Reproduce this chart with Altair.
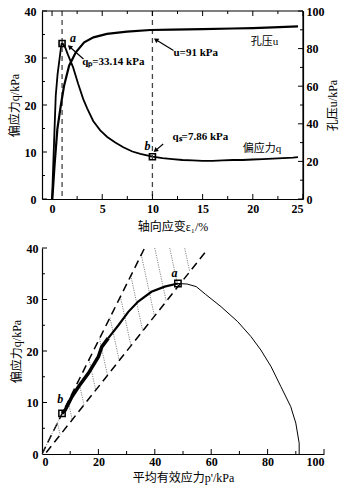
import altair as alt
import pandas as pd

# ---------------- top chart data (axial strain vs q and u) ----------------
strain_q = [0, 0.2, 0.37, 0.55, 0.7, 0.85, 0.95, 1.05, 1.3, 1.6, 2.1, 2.6, 3.1, 3.5, 4.1, 4.8,
            5.5, 6.3, 7.1, 8.0, 8.8, 10, 11, 12, 13, 14, 15, 16, 17, 18, 19, 20, 21, 22, 23, 24, 24.5]
q_vals = [0, 12, 22, 26.5, 29, 31.5, 33.0, 33.1, 32.3, 30.6, 28.0, 24.5, 21.3, 19.3, 16.6, 14.6,
          13.2, 12.0, 11.0, 10.1, 9.6, 9.0, 8.7, 8.5, 8.3, 8.2, 8.1, 8.1, 8.2, 8.3, 8.3, 8.4, 8.5,
          8.6, 8.7, 8.8, 8.9]
strain_u = [0.03, 0.25, 0.53, 0.87, 1.2, 1.7, 2.37, 3.2, 4.13, 5.47, 7.47, 9.8, 12, 15, 18, 20, 22, 24.5]
u_vals = [0, 18, 37.2, 49.6, 60.3, 70.9, 78, 83.3, 86, 87.8, 89, 89.9, 90.1, 90.4, 90.7, 90.9, 91.3, 91.8]
vline_strain = [1.0, 10.0]
mark_strain = [1.0, 10.0]
mark_q = [33.1, 9.0]

# ---------------- bottom chart data (p' vs q stress path) ----------------
p_path = [91.2, 91.2, 90.0, 88.2, 84.7, 81.2, 77.6, 74.1, 69.4, 63.5, 58.0, 54.7, 51.5, 48.2,
          43.5, 38.8, 34.1, 30.6, 27.1, 23.5, 21.2, 20.0, 16.5, 13.0, 10.6, 8.2, 7.1]
q_path = [0, 2.1, 6.0, 9.2, 13.1, 17.0, 20.2, 22.8, 25.7, 28.6, 31.0, 32.5, 33.0, 33.1,
          32.5, 31.5, 29.6, 27.6, 25.0, 22.5, 20.8, 18.9, 15.7, 13.1, 11.1, 8.5, 7.9]
mark_p = [48.2, 7.1]
mark_pq = [33.1, 7.9]
upper_line = [(0.0, 0.0), (36.4, 40.0)]
lower_line = [(1.5, 0.3), (58.5, 39.6)]
hatch_start_p = [5.5, 9.3, 13.0, 16.7, 20.4, 24.1, 27.8, 31.5, 35.2, 38.9, 42.6, 46.3]

SERIF = "Liberation Serif"
TITLEF = "Liberation Serif, Noto Sans CJK SC"

W1, H1 = 261, 188
W2, H2 = 282, 206
X1 = (-1, 25)
Q1 = (0, 40)
U1 = (0, 100)
P2 = (0, 100)
Q2 = (0, 40)


def axis(values, title, orient, **kw):
    return alt.Axis(values=values, title=title, orient=orient, ticks=False, grid=False,
                    domainColor="black", domainWidth=1.2, labelOverlap=False,
                    labelFont=SERIF, labelFontWeight="bold", labelFontSize=12, labelColor="black",
                    titleFont=TITLEF, titleFontWeight="normal", titleFontSize=12, titleColor="black",
                    **kw)


# axes (identical object reused on every layer so merged axes keep all settings)
AX1 = axis([0, 5, 10, 15, 20, 25], "轴向应变ε₁/%", "bottom", labelPadding=4, titlePadding=7)
AQ1 = axis([0, 10, 20, 30, 40], "偏应力q/kPa", "left", labelPadding=6, titlePadding=3)
AU1 = axis([0, 20, 40, 60, 80, 100], "孔压u/kPa", "right", labelPadding=3, titleAngle=270,
           titleX=29, titleY=H1 / 2, titleAlign="center", titleBaseline="middle")
AP2 = axis([0, 20, 40, 60, 80, 100], "平均有效应力p'/kPa", "bottom", labelPadding=2, titlePadding=5)
AQ2 = axis([0, 10, 20, 30, 40], "偏应力q/kPa", "left", labelPadding=4, titlePadding=3)

xs = alt.Scale(domain=list(X1), nice=False, zero=False)
qs = alt.Scale(domain=list(Q1), nice=False)
us = alt.Scale(domain=list(U1), nice=False)
ps = alt.Scale(domain=list(P2), nice=False)
qs2 = alt.Scale(domain=list(Q2), nice=False)


def X(f, sc, ax):
    return alt.X(f, scale=sc, axis=ax)


def Y(f, sc, ax):
    return alt.Y(f, scale=sc, axis=ax)


def seg_layer(rows, sx, ax_x, sy, ax_y, width=1.0, color="black", dash=None, clip=False):
    df = pd.DataFrame(rows, columns=["x1", "y1", "x2", "y2"])
    kw = dict(color=color, strokeWidth=width, clip=clip)
    if dash:
        kw["strokeDash"] = dash
    return alt.Chart(df).mark_rule(**kw).encode(
        x=X("x1:Q", sx, ax_x), y=Y("y1:Q", sy, ax_y), x2="x2:Q", y2="y2:Q")


def xtick_rows(vals, L_px, H, ydom, top=False):
    L = L_px * (ydom[1] - ydom[0]) / H
    if top:
        return [(v, ydom[1], v, ydom[1] - L) for v in vals]
    return [(v, ydom[0], v, ydom[0] + L) for v in vals]


def ytick_rows(vals, L_px, W, xdom, right=False):
    L = L_px * (xdom[1] - xdom[0]) / W
    if right:
        return [(xdom[1], v, xdom[1] - L, v) for v in vals]
    return [(xdom[0], v, xdom[0] + L, v) for v in vals]


# ---------------- top chart ----------------
df_q = pd.DataFrame({"s": strain_q, "q": q_vals})
df_u = pd.DataFrame({"s": strain_u, "u": u_vals})

q_line = alt.Chart(df_q).mark_line(color="black", strokeWidth=1.8).encode(
    x=X("s:Q", xs, AX1), y=Y("q:Q", qs, AQ1))
vrules = alt.Chart(pd.DataFrame({"s": vline_strain})).mark_rule(
    color="#444", strokeDash=[5, 4], strokeWidth=1.3).encode(x=X("s:Q", xs, AX1))
squares_top = alt.Chart(pd.DataFrame({"s": mark_strain, "q": mark_q})).mark_point(
    shape="square", filled=False, color="black", size=36, strokeWidth=1.6, opacity=1).encode(
    x=X("s:Q", xs, AX1), y=Y("q:Q", qs, AQ1))

lab_it = alt.Chart(pd.DataFrame({"s": [1.8, 9.2], "q": [34.3, 11.3], "t": ["a", "b"]})).mark_text(
    font=SERIF, fontStyle="italic", fontWeight="bold", fontSize=12, color="black", align="left",
    baseline="middle").encode(x=X("s:Q", xs, AX1), y=Y("q:Q", qs, AQ1), text="t:N")
lab_val = alt.Chart(pd.DataFrame({"s": [3.0, 12.1, 12.0], "q": [29.1, 31.0, 13.1],
                                  "t": ["qₚ=33.14 kPa", "u=91 kPa", "qₛ=7.86 kPa"]})).mark_text(
    font=SERIF, fontWeight="bold", fontSize=11, color="black", align="left",
    baseline="middle").encode(x=X("s:Q", xs, AX1), y=Y("q:Q", qs, AQ1), text="t:N")
lab_cjk = alt.Chart(pd.DataFrame({"s": [19.8, 19.0], "q": [33.5, 10.6],
                                  "t": ["孔压u", "偏应力q"]})).mark_text(
    font=TITLEF, fontSize=11, color="black", align="left",
    baseline="middle").encode(x=X("s:Q", xs, AX1), y=Y("q:Q", qs, AQ1), text="t:N")

arrows = pd.DataFrame({"s1": [3.13, 12.1, 11.07], "q1": [29.8, 31.6, 11.7],
                       "s2": [1.75, 10.35, 10.3], "q2": [32.4, 33.9, 10.3],
                       "ang": [311.6, 303.8, 228.5]})
arrow_lines = alt.Chart(arrows).mark_rule(color="black", strokeWidth=1.2).encode(
    x=X("s1:Q", xs, AX1), y=Y("q1:Q", qs, AQ1), x2="s2:Q", y2="q2:Q")
arrow_heads = alt.Chart(arrows).mark_point(shape="triangle-up", filled=True, color="black",
                                           size=28, opacity=1).encode(
    x=X("s2:Q", xs, AX1), y=Y("q2:Q", qs, AQ1), angle=alt.Angle("ang:Q", scale=None))

frame_rows = [(X1[0], Q1[1], X1[1], Q1[1]), (X1[1], Q1[0], X1[1], Q1[1])]
tick_rows_q = (xtick_rows([0, 5, 10, 15, 20, 25], 5, H1, Q1) + xtick_rows([2.5, 7.5, 12.5, 17.5, 22.5], 3, H1, Q1)
               + xtick_rows([0, 5, 10, 15, 20, 25], 5, H1, Q1, top=True)
               + xtick_rows([2.5, 7.5, 12.5, 17.5, 22.5], 3, H1, Q1, top=True)
               + ytick_rows([0, 10, 20, 30, 40], 5, W1, X1) + ytick_rows([5, 15, 25, 35], 3, W1, X1))

q_layer = alt.layer(
    q_line, vrules, squares_top, lab_it, lab_val, lab_cjk, arrow_lines, arrow_heads,
    seg_layer(frame_rows, xs, AX1, qs, AQ1, width=1.2),
    seg_layer(tick_rows_q, xs, AX1, qs, AQ1, width=1.0),
)

u_line = alt.Chart(df_u).mark_line(color="black", strokeWidth=2.2).encode(
    x=X("s:Q", xs, AX1), y=Y("u:Q", us, AU1))
tick_rows_u = ytick_rows([0, 20, 40, 60, 80, 100], 5, W1, X1, right=True) + \
    ytick_rows([10, 30, 50, 70, 90], 3, W1, X1, right=True)
u_layer = alt.layer(u_line, seg_layer(tick_rows_u, xs, AX1, us, AU1, width=1.0))

top = alt.layer(q_layer, u_layer).resolve_scale(y="independent").properties(width=W1, height=H1)

# ---------------- bottom chart ----------------
df_path = pd.DataFrame({"p": p_path, "q": q_path, "i": list(range(len(p_path)))})
peak_i = 13
thick_i = 19

path_thin = alt.Chart(df_path[df_path.i <= peak_i]).mark_line(color="black", strokeWidth=1.0).encode(
    x=X("p:Q", ps, AP2), y=Y("q:Q", qs2, AQ2), order="i:Q")
path_mid = alt.Chart(df_path[(df_path.i >= peak_i) & (df_path.i <= thick_i)]).mark_line(
    color="black", strokeWidth=2.2).encode(x=X("p:Q", ps, AP2), y=Y("q:Q", qs2, AQ2), order="i:Q")
path_thick = alt.Chart(df_path[df_path.i >= thick_i]).mark_line(
    color="black", strokeWidth=3.5).encode(x=X("p:Q", ps, AP2), y=Y("q:Q", qs2, AQ2), order="i:Q")
tail = alt.Chart(pd.DataFrame({"p": [0, mark_p[1]], "q": [0, mark_pq[1]]})).mark_line(
    color="#666", strokeWidth=0.8, strokeDash=[1, 1.5]).encode(x=X("p:Q", ps, AP2), y=Y("q:Q", qs2, AQ2))

dash_rows = [(upper_line[0][0], upper_line[0][1], upper_line[1][0], upper_line[1][1]),
             (lower_line[0][0], lower_line[0][1], lower_line[1][0], lower_line[1][1])]

k1 = (upper_line[1][1] - upper_line[0][1]) / (upper_line[1][0] - upper_line[0][0])
k2 = (lower_line[1][1] - lower_line[0][1]) / (lower_line[1][0] - lower_line[0][0])
b2 = lower_line[0][1] - k2 * lower_line[0][0]
slope_h = 2.54
hrows = []
for p0 in hatch_start_p:
    t = ((k1 - k2) * p0 - b2) / (slope_h + k2)
    hrows.append((p0, k1 * p0, p0 + t, k1 * p0 - slope_h * t))

squares_bot = alt.Chart(pd.DataFrame({"p": mark_p, "q": mark_pq})).mark_point(
    shape="square", filled=False, color="black", size=40, strokeWidth=1.5, opacity=1).encode(
    x=X("p:Q", ps, AP2), y=Y("q:Q", qs2, AQ2))
lab_bot = alt.Chart(pd.DataFrame({"p": [47.0, 6.5], "q": [35.1, 10.6], "t": ["a", "b"]})).mark_text(
    font=SERIF, fontStyle="italic", fontWeight="bold", fontSize=12, color="black", align="center",
    baseline="middle").encode(x=X("p:Q", ps, AP2), y=Y("q:Q", qs2, AQ2), text="t:N")

tick_rows_b = (xtick_rows([20, 40, 60, 80, 100], 5, H2, Q2) + xtick_rows([10, 30, 50, 70, 90], 3, H2, Q2)
               + ytick_rows([10, 20, 30, 40], 5, W2, P2) + ytick_rows([5, 15, 25, 35], 3, W2, P2))

bottom = alt.layer(
    path_thin,
    seg_layer(hrows, ps, AP2, qs2, AQ2, width=0.8, color="#666", dash=[1.2, 1.2], clip=True),
    seg_layer(dash_rows, ps, AP2, qs2, AQ2, width=1.5, dash=[8, 5], clip=True),
    tail, path_mid, path_thick, squares_bot, lab_bot,
    seg_layer(tick_rows_b, ps, AP2, qs2, AQ2, width=1.0),
).properties(width=W2, height=H2)

chart = alt.concat(top, bottom, columns=1, spacing=10, align="none").configure(
    padding={"left": 8, "top": 5, "right": 5, "bottom": 5}, background="white"
).configure_view(strokeWidth=0)

chart.save("out.html", embed_options={"renderer": "svg", "actions": False})
